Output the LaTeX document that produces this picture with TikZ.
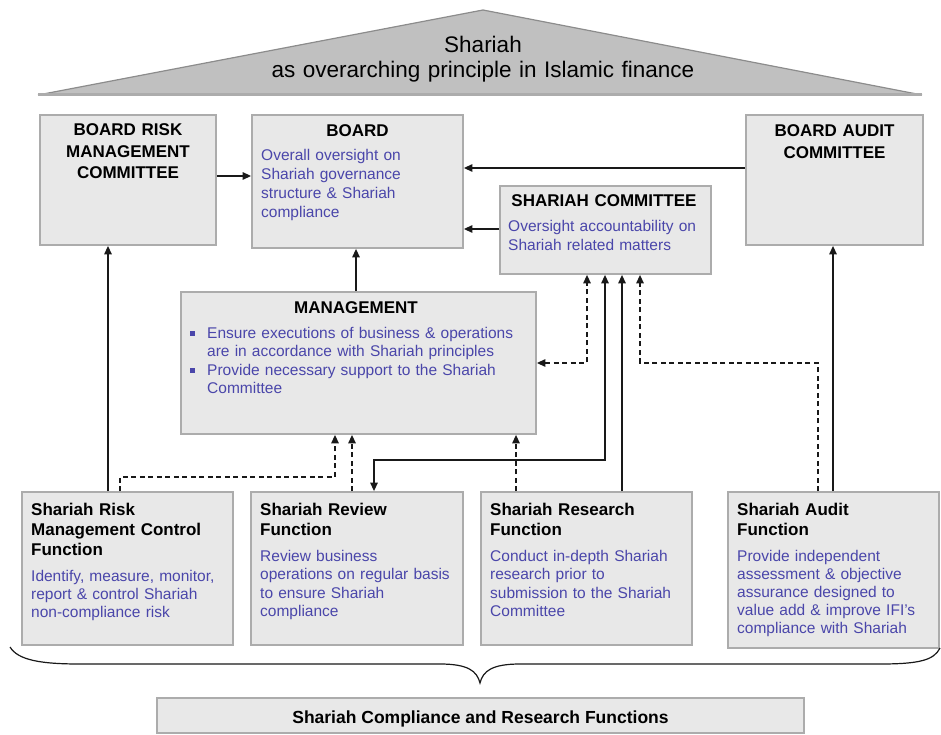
\documentclass[tikz,border=0pt]{standalone}
\usepackage{fontspec}
\setmainfont{Liberation Sans}
\usetikzlibrary{arrows.meta}
\definecolor{boxfill}{RGB}{232,232,232}
\definecolor{boxline}{RGB}{172,172,172}
\definecolor{rooffill}{RGB}{192,192,192}
\definecolor{roofline}{RGB}{140,140,140}
\definecolor{txtblue}{RGB}{74,70,170}
\definecolor{lncol}{RGB}{25,25,25}
\begin{document}
\begin{tikzpicture}[x=1pt,y=-1pt,
  box/.style={draw=boxline, fill=boxfill, line width=1.8pt, inner sep=0pt},
  head/.style={font=\bfseries\fontsize{17}{21.5}\selectfont, inner sep=0pt, anchor=base, align=center, text width=190pt},
  ftitle/.style={font=\bfseries\fontsize{17}{20}\selectfont, inner sep=0pt, anchor=base west, align=left, text width=205pt},
  btxt/.style={font=\fontsize{15.5}{18.5}\selectfont, text=txtblue, inner sep=0pt, anchor=base west, align=left, text width=205pt},
  arr/.style={draw=lncol, line width=1.3pt, -{Triangle[length=8.5pt,width=7.5pt]}},
  darr/.style={arr, dash pattern=on 5pt off 3.5pt},
  biarr/.style={draw=lncol, line width=1.3pt, {Triangle[length=8.5pt,width=7.5pt]}-{Triangle[length=8.5pt,width=7.5pt]}},
  dbiarr/.style={biarr, dash pattern=on 5pt off 3.5pt}
]
\useasboundingbox (0,0) rectangle (941,735);

% roof
\fill[rooffill] (38,95) -- (483,10) -- (922,95) -- cycle;
\draw[roofline, line width=1.2pt, line join=round] (38,95) -- (483,10) -- (922,95);
\draw[boxline, line width=3pt] (38,95) -- (922,95);
\node[font=\fontsize{22.5}{25}\selectfont, inner sep=0pt, anchor=base, align=center, text width=600pt] (roof) at (483,53) {Shariah\\as overarching principle in Islamic finance};

% boxes
\node[box, minimum width=176pt, minimum height=130pt] (brmc) at (128,180) {};
\node[box, minimum width=211pt, minimum height=133pt] (board) at (357.5,181.5) {};
\node[box, minimum width=177pt, minimum height=130pt] (bac) at (834.5,180) {};
\node[box, minimum width=211pt, minimum height=88pt] (sc) at (605.5,230) {};
\node[box, minimum width=355pt, minimum height=142pt] (mgmt) at (358.5,363) {};
\node[box, minimum width=211pt, minimum height=153pt] (srm) at (127.5,568.5) {};
\node[box, minimum width=212pt, minimum height=153pt] (rev) at (357,568.5) {};
\node[box, minimum width=211pt, minimum height=153pt] (res) at (586.5,568.5) {};
\node[box, minimum width=211pt, minimum height=156pt] (aud) at (833.5,570) {};
\node[box, minimum width=647pt, minimum height=35pt] (scrf) at (480.5,715.5) {};

% texts
\node[head] (brmcT) at (128,136) {BOARD RISK\\MANAGEMENT\\COMMITTEE};
\node[head] (boardT) at (357.5,137) {BOARD};
\node[btxt] (boardB) at (261,161) {\fontsize{15.5}{19}\selectfont Overall oversight on\\Shariah governance\\structure \& Shariah\\compliance};
\node[head, font=\bfseries\fontsize{17}{22}\selectfont] (bacT) at (834.5,137) {BOARD AUDIT\\COMMITTEE};
\node[head] (scT) at (604,207) {SHARIAH COMMITTEE};
\node[btxt] (scB) at (508,232) {\fontsize{15.5}{20}\selectfont Oversight accountability on\\Shariah related matters};
\node[head] (mgmtT) at (356,313) {MANAGEMENT};
\node[btxt, text width=325pt] (mgmtB) at (207,338) {Ensure executions of business \& operations\\are in accordance with Shariah principles\\Provide necessary support to the Shariah\\Committee};
\fill[txtblue] (190,331) rectangle (194.5,335.5);
\fill[txtblue] (190,368) rectangle (194.5,372.5);

\node[ftitle] (srmT) at (31,515) {Shariah Risk\\Management Control\\Function};
\node[btxt, font=\fontsize{15.5}{18}\selectfont] (srmB) at (31,581) {Identify, measure, monitor,\\report \& control Shariah\\non-compliance risk};
\node[ftitle] (revT) at (260,515) {Shariah Review\\Function};
\node[btxt] (revB) at (260,561) {Review business\\operations on regular basis\\to ensure Shariah\\compliance};
\node[ftitle] (resT) at (490,515) {Shariah Research\\Function};
\node[btxt] (resB) at (490,561) {Conduct in-depth Shariah\\research prior to\\submission to the Shariah\\Committee};
\node[ftitle] (audT) at (737,515) {Shariah Audit\\Function};
\node[btxt, font=\fontsize{15.5}{18}\selectfont] (audB) at (737,561) {Provide independent\\assessment \& objective\\assurance designed to\\value add \& improve IFI's\\compliance with Shariah};
\node[font=\bfseries\fontsize{17.5}{20}\selectfont, inner sep=0pt, anchor=base] (scrfT) at (480.5,723) {Shariah Compliance and Research Functions};

% connectors
\draw[arr] (brmc.east |- 0,176) -- (board.west |- 0,176);
\draw[arr] (bac.west |- 0,168) -- (board.east |- 0,168);
\draw[arr] (sc.west |- 0,229) -- (board.east |- 0,229);
\draw[arr] (mgmt.north -| 356,0) -- (board.south -| 356,0);
\draw[arr] (srm.north -| 108,0) -- (brmc.south -| 108,0);
\draw[arr] (aud.north -| 833,0) -- (bac.south -| 833,0);
\draw[darr] (srm.north -| 120,0) -- (120,477) -- (335,477) -- (mgmt.south -| 335,0);
\draw[darr] (rev.north -| 352,0) -- (mgmt.south -| 352,0);
\draw[darr] (res.north -| 516,0) -- (mgmt.south -| 516,0);
\draw[dbiarr] (mgmt.east |- 0,363) -- (587,363) -- (sc.south -| 587,0);
\draw[biarr] (sc.south -| 605,0) -- (605,460) -- (374,460) -- (rev.north -| 374,0);
\draw[arr] (res.north -| 622,0) -- (sc.south -| 622,0);
\draw[darr] (aud.north -| 818,0) -- (818,363) -- (640,363) -- (sc.south -| 640,0);

% brace
\draw[lncol, line width=1.2pt] (10,647) .. controls (18,660) and (40,664) .. (80,664) -- (440,664) .. controls (468,664) and (477,671) .. (480,683) .. controls (483,671) and (492,664) .. (520,664) -- (880,664) .. controls (920,664) and (934,660) .. (940,648);
\end{tikzpicture}
\end{document}
